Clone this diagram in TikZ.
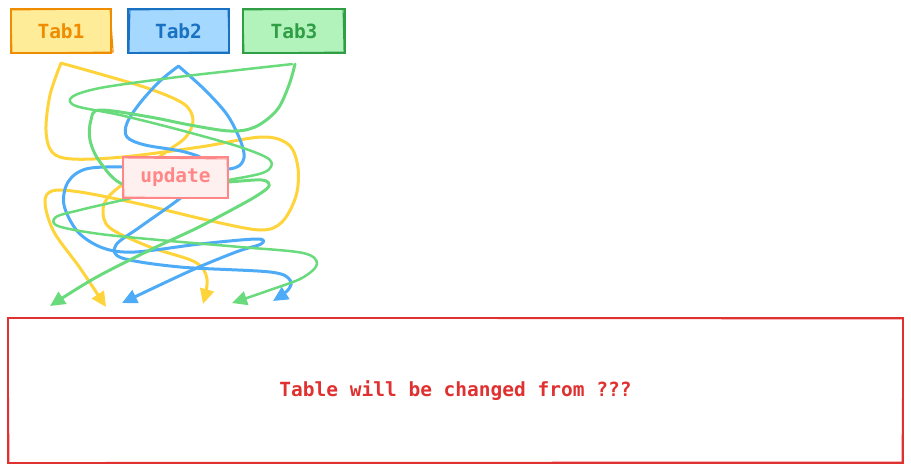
\documentclass[tikz,border=0pt]{standalone}
\usepackage{fontspec}
\setmonofont{DejaVu Sans Mono}
\usetikzlibrary{arrows.meta}
\pgfdeclarelayer{bg}
\pgfsetlayers{bg,main}
\definecolor{yelF}{HTML}{FFEC99}\definecolor{yelD}{HTML}{F08C00}
\definecolor{bluF}{HTML}{A5D8FF}\definecolor{bluD}{HTML}{1971C2}
\definecolor{grnF}{HTML}{B2F2BB}\definecolor{grnD}{HTML}{2F9E44}
\definecolor{pnkF}{HTML}{FFF0F0}\definecolor{pnkD}{HTML}{FF8787}
\definecolor{redD}{HTML}{E03131}
\definecolor{yelA}{HTML}{FFD43B}\definecolor{bluA}{HTML}{4DABF7}\definecolor{grnA}{HTML}{69DB7C}
\tikzset{
  box/.style={rectangle, line width=2.2pt, inner sep=0pt, font=\ttfamily\bfseries\fontsize{19.5}{23}\selectfont},
  tabbox/.style={box, minimum width=100pt, minimum height=44pt},
  wire/.style={line width=3pt, line cap=round, line join=round, -{Triangle[length=15pt,width=14pt]}},
  sketch/.style={line width=1.1pt}
}
\begin{document}
\begin{tikzpicture}[x=1pt,y=-1pt]
\useasboundingbox (0,0) rectangle (911,471);
% nodes
\node[tabbox, fill=yelF, draw=yelD, text=yelD] (tab1) at (61,31) {Tab1};
\node[tabbox, fill=bluF, draw=bluD, text=bluD, minimum width=101pt] (tab2) at (178.5,31) {Tab2};
\node[tabbox, fill=grnF, draw=grnD, text=grnD, minimum width=102pt] (tab3) at (294,31) {Tab3};
\node[box, fill=pnkF, draw=pnkD, text=pnkD, minimum width=105pt, minimum height=41pt] (upd) at (175.5,177.5) {update};
\node[box, draw=redD, text=redD, minimum width=895pt, minimum height=145pt] (table) at (455.5,390.5) {Table will be changed from ???};
% sketchy second strokes
\draw[sketch, yelD] ([xshift=2pt,yshift=1pt]tab1.south west) -- ([xshift=1pt,yshift=2pt]tab1.south east) -- ([xshift=-2pt,yshift=-1pt]tab1.north east) -- ([xshift=1pt,yshift=-2pt]tab1.north west) -- cycle;
\draw[sketch, bluD] ([xshift=2pt,yshift=1.5pt]tab2.south west) -- ([xshift=-1pt,yshift=2pt]tab2.south east) -- ([xshift=-2pt,yshift=-1pt]tab2.north east) -- ([xshift=3pt,yshift=-2pt]tab2.north west) -- cycle;
\draw[sketch, grnD] ([xshift=2pt,yshift=1pt]tab3.south west) -- ([xshift=-2pt,yshift=2pt]tab3.south east) -- ([xshift=-3pt,yshift=-1pt]tab3.north east) -- ([xshift=1pt,yshift=-2pt]tab3.north west) -- cycle;
\draw[sketch, pnkD] ([xshift=2pt,yshift=2pt]upd.south west) -- ([xshift=-1pt,yshift=1pt]upd.south east) -- ([xshift=-2pt,yshift=-3pt]upd.north east) -- ([xshift=1pt,yshift=-2pt]upd.north west) -- cycle;
\draw[sketch, redD] ([xshift=2pt,yshift=1.5pt]table.south west) -- ([xshift=-2pt,yshift=2pt]table.south east) -- ([xshift=-1pt,yshift=-2pt]table.north east) -- ([xshift=1pt,yshift=-1pt]table.north west) -- cycle;
% start/end coordinates
\coordinate (s1) at ([yshift=-9pt]tab1.south);
\coordinate (s2) at ([yshift=-12pt]tab2.south);
\coordinate (s3) at ([xshift=1pt,yshift=-10pt]tab3.south);
\coordinate (eYa) at (106,307);
\coordinate (eYb) at (203,304);
\coordinate (eBc) at (122,303);
\coordinate (eBd) at (273,301);
\coordinate (eGe) at (50,306);
\coordinate (eGf) at (232,303);
\begin{pgfonlayer}{bg}
% yellow
\draw[wire, yelA] plot[smooth, tension=0.55] coordinates {(s1) (50,95) (46,130) (52,152) (72,159) (123,157) (200,147) (262,137) (289,145) (298,168) (296,196) (282,222) (260,230) (207,220) (140,204) (80,192) (52,191) (45,203) (54,232) (80,268) (eYa)};
\draw[wire, yelA] plot[smooth, tension=0.55] coordinates {(s1) (100,74) (150,89) (184,104) (193,120) (186,137) (166,152) (135,175) (110,195) (103,210) (110,228) (150,247) (195,262) (207,279) (eYb)};
% blue
\draw[wire, bluA] plot[smooth, tension=0.55] coordinates {(s2) (205,90) (228,116) (242,145) (243,161) (229,169) (176,170) (123,167) (86,169) (68,182) (64,205) (78,232) (103,248) (135,252) (200,244) (257,239) (261,244) (236,252) (190,271) (eBc)};
\draw[wire, bluA] plot[smooth, tension=0.55] coordinates {(s2) (160,81) (140,103) (127,123) (127,137) (145,145) (185,152) (205,162) (195,185) (178,200) (140,227) (116,245) (122,258) (180,267) (270,272) (290,280) (288,290) (eBd)};
% green
\draw[wire, grnA] plot[smooth, tension=0.55] coordinates {(s3) (289,85) (277,110) (255,127) (230,131) (190,125) (150,117) (100,110) (91,120) (90,140) (100,162) (125,185) (180,185) (228,182) (262,180) (269,186) (258,195) (237,207) (197,228) (150,250) (95,278) (eGe)};
\draw[wire, grnA, line width=2.5pt] plot[smooth, tension=0.55] coordinates {([xshift=-3pt]s3) (230,71) (170,78) (100,88) (72,97) (76,106) (120,115) (180,130) (240,147) (270,160) (265,172) (228,180) (175,188) (123,200) (80,210) (56,217) (58,226) (100,234) (170,241) (240,247) (303,253) (317,264) (302,278) (270,290) (eGf)};
\end{pgfonlayer}
\end{tikzpicture}
\end{document}
